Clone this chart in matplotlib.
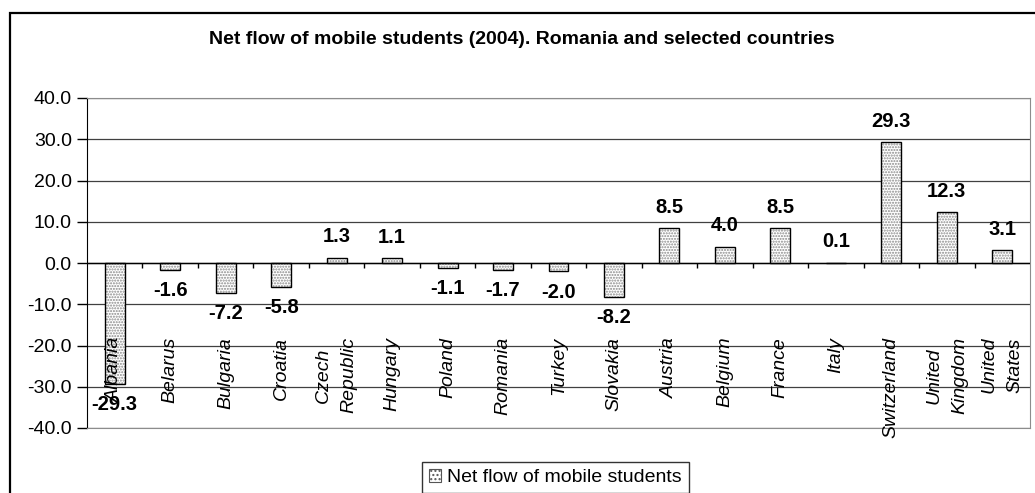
import matplotlib.pyplot as plt
from matplotlib.patches import Rectangle, Patch

plt.rcParams['font.family'] = ['Liberation Sans', 'DejaVu Sans']

# data
countries = ["Albania", "Belarus", "Bulgaria", "Croatia", "Czech\nRepublic", "Hungary",
             "Poland", "Romania", "Turkey", "Slovakia", "Austria", "Belgium", "France",
             "Italy", "Switzerland", "United\nKingdom", "United\nStates"]
net_flow = [-29.3, -1.6, -7.2, -5.8, 1.3, 1.1, -1.1, -1.7, -2.0, -8.2,
            8.5, 4.0, 8.5, 0.1, 29.3, 12.3, 3.1]
yticks = [-40, -30, -20, -10, 0, 10, 20, 30, 40]

W, H = 1035, 493
fig = plt.figure(figsize=(W / 100, H / 100), dpi=100)
fig.patch.set_facecolor('white')

# outer chart frame (runs off the right and bottom of the picture)
fig.patches.append(Rectangle((10 / W, -0.2), 1.2, 1 - 13 / H + 0.2, transform=fig.transFigure,
                             fill=False, edgecolor='black', linewidth=1.6))

ax = fig.add_axes([87 / W, (H - 428) / H, (1030 - 87) / W, (428 - 98) / H])

x = list(range(len(countries)))
ax.bar(x, net_flow, width=0.36, color='white', edgecolor='#8a8a8a', hatch='......',
       linewidth=0, zorder=3)
ax.bar(x, net_flow, width=0.36, fill=False, edgecolor='black', linewidth=1, zorder=4)

ax.set_xlim(-0.5, len(countries) - 0.5)
ax.set_ylim(-40, 40)
ax.set_yticks(yticks)
ax.set_yticklabels([f"{v:.1f}" for v in yticks], fontsize=14)
ax.tick_params(axis='y', direction='out', length=7, width=1, pad=4)
ax.set_xticks([])
ax.yaxis.grid(True, color='#404040', linewidth=0.9, zorder=0)
ax.set_axisbelow(True)

for s in ['top', 'right', 'bottom']:
    ax.spines[s].set_color('#8c8c8c')
ax.spines['left'].set_color('black')

# category axis at zero with ticks between categories
ax.axhline(0, color='black', linewidth=1, zorder=5)
ax.vlines([i + 0.5 for i in x[:-1]], -1.3, 0, color='black', linewidth=1, zorder=5)

# value labels
for xi, v in zip(x, net_flow):
    off = 15 if v >= 0 else -15
    ax.annotate(f"{v:.1f}", (xi, v), xytext=(0, off), textcoords='offset points',
                ha='center', va='center', fontsize=14.5, fontweight='bold', zorder=6)

# category labels, rotated, hanging from below the zero line
for xi, name in zip(x, countries):
    ax.text(xi, -17.9, name, rotation=90, ha='center', va='top', multialignment='center',
            fontsize=14, fontstyle='italic', linespacing=1.65, zorder=6)

fig.text(522 / W, 1 - 40 / H, "Net flow of mobile students (2004). Romania and selected countries",
         ha='center', va='center', fontsize=14, fontweight='bold')

handle = Patch(facecolor='white', edgecolor='#555555', hatch='....', linewidth=0.8)
fig.legend([handle], ["Net flow of mobile students"], loc='upper left',
           bbox_to_anchor=(422 / W, 1 - 462 / H), fontsize=14, frameon=True, fancybox=False,
           edgecolor='black', handlelength=0.65, handleheight=0.65, handletextpad=0.3,
           borderpad=0.35, borderaxespad=0).get_frame().set_linewidth(1)

fig.savefig("out.png", dpi=100)
